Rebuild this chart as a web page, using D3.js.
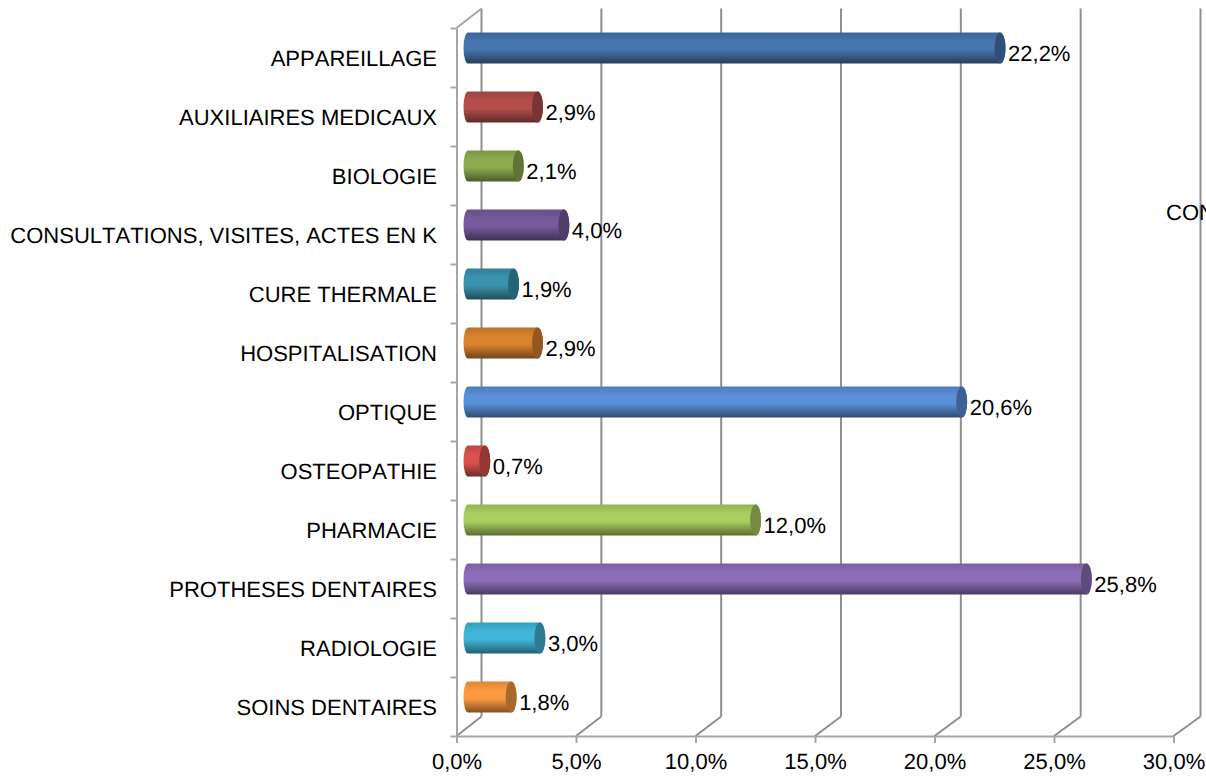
<!DOCTYPE html>
<meta charset="utf-8">
<style>
html, body { margin: 0; padding: 0; background: #fff; overflow: hidden; }
text { font-family: "Liberation Sans", Arial, sans-serif; font-size: 22px; fill: #000; text-rendering: geometricPrecision; font-kerning: none; }
.grid line { stroke: #8e8e8e; stroke-width: 2; fill: none; }
.axis path, .axis line { stroke: #a6a6a6; stroke-width: 2; fill: none; }
</style>
<body>
<div id="chart"></div>
<script src="https://d3js.org/d3.v7.min.js"></script>
<script>
var categories = ["APPAREILLAGE", "AUXILIAIRES MEDICAUX", "BIOLOGIE", "CONSULTATIONS, VISITES, ACTES EN K",
  "CURE THERMALE", "HOSPITALISATION", "OPTIQUE", "OSTEOPATHIE", "PHARMACIE",
  "PROTHESES DENTAIRES", "RADIOLOGIE", "SOINS DENTAIRES"];
var values = [22.2, 2.9, 2.1, 4.0, 1.9, 2.9, 20.6, 0.7, 12.0, 25.8, 3.0, 1.8];
var xTicks = [0, 5, 10, 15, 20, 25, 30];
var barColors = ["#4775ae", "#b34e4b", "#8fac50", "#765b9c", "#3a93ae", "#da832f",
  "#5a90d8", "#d9524e", "#abce60", "#8d6eb9", "#41b6d8", "#fb9a40"];
var sideTitle = "CONSULTATIONS";

var width = 1206, height = 778,
    front = {left: 456.5, right: 1173.5, top: 28, bottom: 736},
    back = {left: 481.5, right: 1200.5, top: 8.5, bottom: 716.5},
    rx = 5.5, rxLeft = 4.5, barHeight = 31;

var svg = d3.select("#chart").append("svg")
  .attr("width", width)
  .attr("height", height);

var x = d3.scaleLinear().domain([0, 30]).range([front.left, front.right]);
var xBack = d3.scaleLinear().domain([0, 30]).range([back.left, back.right]);
// bars stand halfway between the front and back planes
var xBar = d3.scaleLinear().domain([0, 30]).range([468, 1187]);
var y = d3.scaleBand().domain(categories).range([front.top, front.bottom]);
var fmt = d => d.toFixed(1).replace(".", ",") + "%";

// back wall + floor lines
var grid = svg.append("g").attr("class", "grid");
grid.selectAll(".back").data(xTicks).enter().append("line")
  .attr("x1", d => xBack(d)).attr("x2", d => xBack(d))
  .attr("y1", back.top).attr("y2", back.bottom);
grid.selectAll(".floor").data(xTicks).enter().append("line")
  .attr("x1", d => x(d)).attr("x2", d => xBack(d))
  .attr("y1", front.bottom).attr("y2", back.bottom);
grid.append("line")
  .attr("x1", x(0)).attr("x2", xBack(0))
  .attr("y1", front.top).attr("y2", back.top)
  .style("stroke", "#a6a6a6");

// left axis, the ticks sit on the band edges so no labels come from it
var yEdge = d3.scaleLinear().domain([0, categories.length]).range([front.top, front.bottom]);
svg.append("g").attr("class", "axis")
  .attr("transform", `translate(${front.left},0)`)
  .call(d3.axisLeft(yEdge).ticks(categories.length).tickSize(6).tickSizeOuter(0).tickFormat(""));

var xAxis = svg.append("g").attr("class", "axis")
  .attr("transform", `translate(0,${front.bottom})`)
  .call(d3.axisBottom(x).tickValues(xTicks).tickSize(7).tickSizeOuter(0).tickFormat(fmt));
xAxis.selectAll("text").attr("dy", 0).attr("y", 33);

// category labels
svg.selectAll(".cat").data(categories).enter().append("text")
  .attr("class", "cat")
  .attr("text-anchor", "end")
  .attr("x", 437)
  .attr("y", d => y(d) + y.bandwidth() / 2 + 8)
  .text(d => d);

// cylinder gradients
var defs = svg.append("defs");
barColors.forEach((c, i) => {
  var g = defs.append("linearGradient").attr("id", "bar" + i)
    .attr("x1", 0).attr("x2", 0).attr("y1", 0).attr("y2", 1);
  g.append("stop").attr("offset", "0%").attr("stop-color", d3.color(c).darker(0.4));
  g.append("stop").attr("offset", "30%").attr("stop-color", c);
  g.append("stop").attr("offset", "55%").attr("stop-color", c);
  g.append("stop").attr("offset", "100%").attr("stop-color", d3.color(c).darker(1.8));
});

var bars = svg.selectAll(".bar").data(categories).enter().append("g")
  .attr("class", "bar")
  .attr("transform", d => `translate(0,${y(d) + y.bandwidth() / 2 - 9.5})`);

bars.append("path")
  .attr("d", (d, i) => {
    var r = barHeight / 2, x0 = xBar(0), x1 = xBar(values[i]);
    return `M${x0},${-r} L${x1},${-r} A${rx},${r} 0 0 1 ${x1},${r} L${x0},${r} A${rxLeft},${r} 0 0 1 ${x0},${-r} Z`;
  })
  .attr("fill", (d, i) => `url(#bar${i})`);

bars.append("ellipse")
  .attr("cx", (d, i) => xBar(values[i]))
  .attr("cy", 0)
  .attr("rx", rx)
  .attr("ry", barHeight / 2)
  .attr("fill", (d, i) => d3.color(barColors[i]).darker(1.1));

// data labels
bars.append("text")
  .attr("x", (d, i) => xBar(values[i]) + rx + 2.5)
  .attr("y", 13)
  .text((d, i) => fmt(values[i]));

// stray title cut off by the page edge
svg.append("text")
  .attr("x", 1166)
  .attr("y", 220)
  .text(sideTitle);
</script>
</body>
